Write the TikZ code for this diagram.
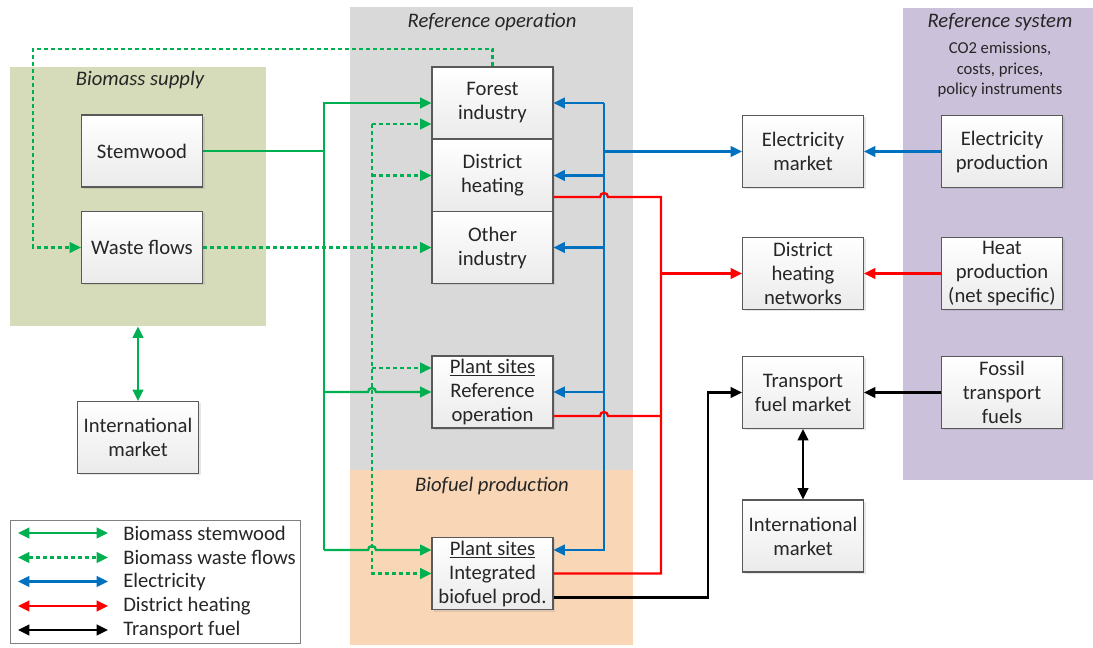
\documentclass[tikz,border=0pt]{standalone}
\usepackage{fontspec}
\setmainfont{Carlito}
\usetikzlibrary{arrows.meta,shadows,calc}
\definecolor{cgreen}{RGB}{0,176,80}
\definecolor{cblue}{RGB}{0,112,192}
\definecolor{cred}{RGB}{255,0,0}
\definecolor{bgbio}{RGB}{214,220,186}
\definecolor{bgref}{RGB}{217,217,217}
\definecolor{bgfuel}{RGB}{249,214,182}
\definecolor{bgsys}{RGB}{204,193,218}
\definecolor{txt}{RGB}{38,38,38}
\definecolor{bord}{RGB}{89,89,89}
\begin{document}
\begin{tikzpicture}[x=0.75pt,y=-0.75pt,
  every node/.style={text=txt},
  box/.style={draw=bord,line width=0.8pt,top color=white,bottom color=black!8,
    minimum width=90.75pt,minimum height=54pt,inner sep=0pt,align=center,
    font=\fontsize{15.5}{18}\selectfont,
    drop shadow={shadow xshift=1.5pt,shadow yshift=-1.5pt,opacity=0.2}},
  region/.style={draw=none,inner sep=0pt,anchor=north west},
  title/.style={font=\fontsize{15.5}{18}\selectfont\itshape},
  line/.style={line width=1.7pt},
  flow/.style={line width=1.7pt,-{Triangle[length=8.5pt,width=8pt]}},
  dtip/.style={{Triangle[length=8.5pt,width=8pt]}-{Triangle[length=8.5pt,width=8pt]}},
  wl/.style={dash pattern=on 3pt off 2.25pt},
  lgtext/.style={anchor=west,font=\fontsize{15.5}{18}\selectfont,inner sep=0pt}
]
\useasboundingbox (0,0) rectangle (1093,648);
% regions
\node[region,fill=bgbio,minimum width=192pt,minimum height=194.25pt] (bio) at (10,67) {};
\node[region,fill=bgref,minimum width=212.25pt,minimum height=347.25pt] (refop) at (350,7) {};
\node[region,fill=bgfuel,minimum width=212.25pt,minimum height=131.25pt] (fuel) at (350,470) {};
\node[region,fill=bgsys,minimum width=142.5pt,minimum height=354pt] (sys) at (903,8) {};
\node[title] (tbio) at (140,80) {Biomass supply};
\node[title] (tref) at (492,22) {Reference operation};
\node[title] (tfuel) at (492,486) {Biofuel production};
\node[title] (tsys) at (1000,22) {Reference system};
\node[align=center,font=\fontsize{12.5}{15.4}\selectfont] (tsub) at (1000,70) {CO2 emissions,\\costs, prices,\\policy instruments};
% boxes
\node[box] (stem) at (142,151) {Stemwood};
\node[box] (waste) at (142,247.5) {Waste flows};
\node[box] (intl) at (138,437.5) {International\\market};
\node[box] (forest) at (492.5,103) {Forest\\industry};
\node[box] (dh) at (492.5,175.5) {District\\heating};
\node[box] (other) at (492.5,247.5) {Other\\industry};
\node[box] (psref) at (492.5,392) {\underline{Plant sites}\\Reference\\operation};
\node[box] (psint) at (492.5,573.5) {\underline{Plant sites}\\Integrated\\biofuel prod.};
\node[box] (emkt) at (803,151.5) {Electricity\\market};
\node[box] (dhn) at (803,273.5) {District\\heating\\networks};
\node[box] (tfm) at (803,392.5) {Transport\\fuel market};
\node[box] (intl2) at (803,536) {International\\market};
\node[box] (eprod) at (1002,151.5) {Electricity\\production};
\node[box] (hprod) at (1002,273.5) {Heat\\production\\(net specific)};
\node[box] (fossil) at (1002,392.5) {Fossil\\transport\\fuels};
% green solid (stemwood)
\draw[line,cgreen] (stem.east) -- (324,151);
\draw[flow,cgreen] (324,550) |- (forest.west);
\draw[flow,cgreen] (324,392) -- (368,392) .. controls (368,386.7) and (376,386.7) .. (376,392) -- (psref.west);
\draw[flow,cgreen] (324,550) -- (368,550) .. controls (368,544.7) and (376,544.7) .. (376,550) -- ($(psint.west)+(0,-23.5)$);
\draw[line,cgreen,dtip] (bio.south -| intl.north) -- (intl.north);
% green dashed (waste)
\draw[flow,cgreen,wl] (waste.east) -- (other.west);
\draw[flow,cgreen,wl] (372,124) -- (372,573.5) -- (psint.west);
\draw[flow,cgreen,wl] (372,124) -- ($(forest.west)+(0,21)$);
\draw[flow,cgreen,wl] (372,175.5) -- (dh.west);
\draw[flow,cgreen,wl] (372,368) -- ($(psref.west)+(0,-24)$);
\draw[flow,cgreen,wl] (forest.north) |- (33,49) -- (33,247.5) -- (waste.west);
% blue (electricity)
\draw[flow,cblue] (604,103) -- (604,550) -- ($(psint.east)+(0,-23.5)$);
\draw[flow,cblue] (604,103) -- (forest.east);
\draw[flow,cblue] (604,175.5) -- (dh.east);
\draw[flow,cblue] (604,247.5) -- (other.east);
\draw[flow,cblue] (604,392) -- (psref.east);
\draw[flow,cblue] (604,151.5) -- (emkt.west);
\draw[flow,cblue] (eprod.west) -- (emkt.east);
% red (district heating)
\draw[line,cred] ($(dh.east)+(0,21.5)$) -- (600,197) .. controls (600,191.7) and (608,191.7) .. (608,197) -- (661,197) -- (661,573.5) -- (psint.east);
\draw[line,cred] ($(psref.east)+(0,24)$) -- (600,416) .. controls (600,410.7) and (608,410.7) .. (608,416) -- (661,416);
\draw[flow,cred] (661,273.5) -- (dhn.west);
\draw[flow,cred] (hprod.west) -- (dhn.east);
% black (transport fuel)
\draw[flow,black] ($(psint.east)+(0,24)$) -- (708,597.5) -- (708,392.5) -- (tfm.west);
\draw[flow,black] (fossil.west) -- (tfm.east);
\draw[line,black,dtip] (tfm.south) -- (intl2.north);
% legend
\node[region,draw=black!50,fill=white,line width=0.8pt,minimum width=217.5pt,minimum height=92.25pt] (legend) at (10,520) {};
\coordinate (la1) at (18,533); \coordinate (lb1) at (108,533);
\coordinate (la2) at (18,557.5); \coordinate (lb2) at (108,557.5);
\coordinate (la3) at (18,581.5); \coordinate (lb3) at (108,581.5);
\coordinate (la4) at (18,606); \coordinate (lb4) at (108,606);
\coordinate (la5) at (18,630); \coordinate (lb5) at (108,630);
\draw[line,cgreen,dtip] (la1) -- (lb1);
\draw[line,cgreen,dtip,wl] (la2) -- (lb2);
\draw[line,cblue,dtip] (la3) -- (lb3);
\draw[line,cred,dtip] (la4) -- (lb4);
\draw[line,black,dtip] (la5) -- (lb5);
\node[lgtext] (lt1) at (123,533) {Biomass stemwood};
\node[lgtext] (lt2) at (123,557.5) {Biomass waste flows};
\node[lgtext] (lt3) at (123,581.5) {Electricity};
\node[lgtext] (lt4) at (123,606) {District heating};
\node[lgtext] (lt5) at (123,630) {Transport fuel};
\end{tikzpicture}
\end{document}
